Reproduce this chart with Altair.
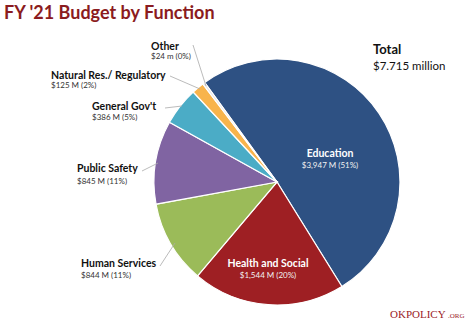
import math
import altair as alt
import pandas as pd

# ---- data ----
categories = ["Education", "Health and Social", "Human Services", "Public Safety",
              "General Gov't", "Natural Res./ Regulatory", "Other"]
values = [3947, 1544, 844, 845, 386, 125, 24]
sublabels = ["$3,947 M  (51%)", "$1,544 M  (20%)", "$844 M  (11%)", "$845 M  (11%)",
             "$386 M  (5%)", "$125 M  (2%)", "$24 m  (0%)"]
colors = ["#2E5183", "#9E1F23", "#9BBB59", "#8064A2", "#4BACC6", "#F8B44C", "#E6E6E6"]

# ---- layout (pixels) ----
W, H = 474, 326
CX, CY, R = 277, 182, 123
START = math.radians(-36)

# label anchor positions: (x, y_title_baseline, y_sub_baseline, align)
label_pos = [
    (330, 157, 168, "center"),
    (268, 267, 278, "center"),
    (81, 267, 278, "left"),
    (77, 172, 184, "left"),
    (92, 110, 120, "left"),
    (51, 79, 88, "left"),
    (151, 50, 59, "left"),
]
inside = [True, True, False, False, False, False, False]

leaders = [  # x, y, x2, y2
    (160, 266, 175, 243),
    (142, 171, 158, 163),
    (165, 108, 182, 106),
    (170, 76, 200, 89),
    (193, 45, 206, 86),
]

df = pd.DataFrame({"category": categories, "value": values, "idx": range(len(values))})

pie = alt.Chart(df).mark_arc(outerRadius=R, stroke="white", strokeWidth=1.2).encode(
    theta=alt.Theta("value:Q", stack=True,
                    scale=alt.Scale(range=[START, START + 2 * math.pi])),
    color=alt.Color("category:N", scale=alt.Scale(domain=categories, range=colors), legend=None),
    order=alt.Order("idx:Q"),
    x=alt.value(CX),
    y=alt.value(CY),
)

lab = pd.DataFrame({
    "title": categories,
    "sub": sublabels,
    "x": [p[0] for p in label_pos],
    "y1": [p[1] for p in label_pos],
    "y2": [p[2] for p in label_pos],
    "inside": inside,
})

layers = [pie]
for align in ["left", "center"]:
    d = lab[[p[3] == align for p in label_pos]]
    for ins in [True, False]:
        dd = d[d["inside"] == ins]
        if len(dd) == 0:
            continue
        tcol = "white" if ins else "#111111"
        scol = "#F2F2F2" if ins else "#333333"
        tsize = 10.5
        layers.append(alt.Chart(dd).mark_text(
            align=align, baseline="alphabetic", font="Lato", fontWeight="bold",
            fontSize=tsize, color=tcol).encode(
            x=alt.X("x:Q", scale=None), y=alt.Y("y1:Q", scale=None), text="title:N"))
        layers.append(alt.Chart(dd).mark_text(
            align=align, baseline="alphabetic", font="Lato",
            fontSize=8, color=scol).encode(
            x=alt.X("x:Q", scale=None), y=alt.Y("y2:Q", scale=None), text="sub:N"))

ld = pd.DataFrame(leaders, columns=["x", "y", "x2", "y2"])
layers.append(alt.Chart(ld).mark_rule(color="#AAAAAA", strokeWidth=0.8).encode(
    x=alt.X("x:Q", scale=None), y=alt.Y("y:Q", scale=None),
    x2="x2:Q", y2="y2:Q"))

annot = pd.DataFrame({
    "text": ["FY '21 Budget by Function", "Total", "$7.715 million", "OKPOLICY", ".ORG"],
    "x": [4, 373, 373, 390, 448],
    "y": [19, 54, 70, 318, 318],
    "size": [18, 13, 11.5, 11, 7],
    "weight": ["bold", "bold", "normal", "normal", "normal"],
    "font": ["Lato", "Lato", "Lato", "Liberation Serif", "Liberation Serif"],
    "color": ["#8B1B20", "#111111", "#111111", "#9B2228", "#9B2228"],
})
for i, row in annot.iterrows():
    layers.append(alt.Chart(annot.iloc[[i]]).mark_text(
        align="left", baseline="alphabetic", font=row["font"], fontSize=row["size"],
        fontWeight=row["weight"], color=row["color"]).encode(
        x=alt.X("x:Q", scale=None), y=alt.Y("y:Q", scale=None), text="text:N"))

chart = alt.layer(*layers).properties(
    width=W, height=H, autosize=alt.AutoSizeParams(type="none"), padding=0,
    background="white",
).configure_view(stroke=None)

chart.save("out.html", embed_options={"renderer": "svg", "actions": False})
